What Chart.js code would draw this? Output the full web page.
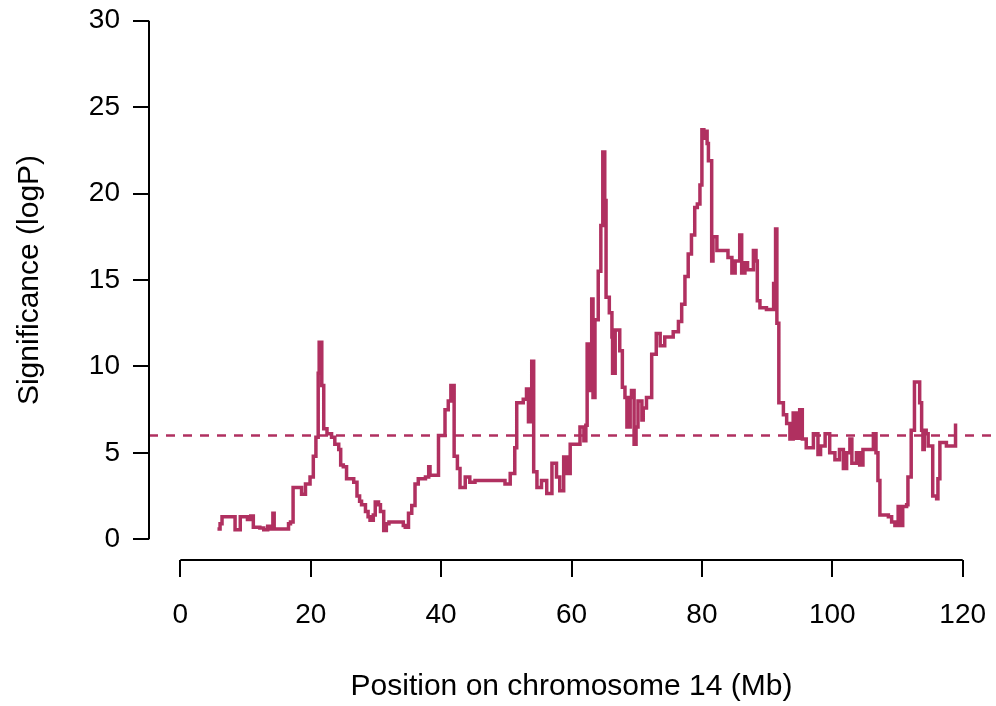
<!DOCTYPE html>
<html>
<head>
<meta charset="utf-8">
<script src="https://cdn.jsdelivr.net/npm/chart.js@4.4.1/dist/chart.umd.min.js"></script>
<style>
  html, body { margin: 0; padding: 0; background: #fff; }
  #wrap { width: 996px; height: 706px; }
</style>
</head>
<body>
<div id="wrap"><canvas id="grafico"></canvas></div>
<script>
// position on chromosome 14 (Mb) and significance (logP)
const positions = [
    5.7, 6.1, 6.4, 8.4, 9.2, 10.3, 10.8, 11.2, 12.2, 12.8, 13.4, 13.9, 14.2, 14.4, 16.6, 16.9,
    17.3, 18.6, 19.2, 19.9, 20.4, 20.8, 21.15, 21.3, 21.7, 22.0, 22.5, 23.2, 23.7, 24.3, 24.6,
    25.0, 25.5, 26.6, 27.1, 27.5, 27.8, 28.4, 28.8, 29.1, 29.6, 29.9, 30.4, 30.7, 31.2, 31.6,
    32.0, 34.2, 34.5, 35.0, 35.5, 36.0, 36.5, 37.6, 38.1, 38.3, 39.6, 40.6, 41.1, 41.5, 42.0,
    42.5, 42.9, 43.7, 44.4, 45.2, 49.8, 50.6, 51.3, 51.6, 52.6, 53.1, 53.4, 53.9, 54.2, 54.7,
    55.4, 56.2, 57.0, 57.7, 58.2, 58.8, 59.3, 59.8, 61.3, 61.9, 62.2, 62.4, 62.8, 63.1, 63.3,
    63.6, 64.1, 64.5, 64.8, 65.1, 65.3, 65.8, 66.2, 66.3, 66.7, 67.4, 67.8, 68.2, 68.5, 69.0,
    69.2, 69.6, 69.9, 70.2, 70.8, 71.0, 71.5, 72.3, 73.0, 73.6, 74.3, 75.6, 76.4, 76.9, 77.4,
    77.9, 78.4, 78.9, 79.3, 79.7, 80.0, 80.3, 80.5, 80.8, 81.0, 81.5, 81.7, 82.3, 84.0, 84.6,
    85.1, 85.8, 86.1, 86.6, 87.0, 87.9, 88.3, 88.5, 88.9, 89.9, 91.0, 91.3, 91.5, 91.8, 92.5,
    93.0, 93.5, 94.0, 94.5, 95.0, 95.4, 96.0, 97.1, 97.8, 98.2, 98.9, 99.6, 100.4, 101.1, 101.7,
    102.2, 102.7, 103.0, 103.7, 104.2, 104.7, 106.3, 106.7, 107.0, 107.3, 108.6, 109.1, 109.6,
    110.1, 110.5, 110.8, 111.4, 111.6, 112.1, 112.6, 113.4, 113.7, 113.9, 114.1, 114.4, 114.7,
    115.4, 116.0, 116.2, 116.5, 117.5, 118.9
]
const logP = [
    0.6, 0.9, 1.3, 0.55, 1.3, 1.15, 1.35, 0.7, 0.65, 0.55, 0.75, 0.6, 1.5, 0.6, 0.9, 1.0,
    3.0, 2.6, 3.2, 3.6, 4.8, 5.9, 9.6, 11.4, 8.9, 6.4, 6.1, 5.9, 5.5, 5.2, 4.3,
    4.2, 3.5, 3.3, 2.5, 2.2, 2.0, 1.6, 1.3, 1.1, 1.4, 2.15, 2.0, 1.6, 0.5, 0.9,
    1.0, 0.8, 0.7, 1.5, 1.96, 3.2, 3.5, 3.6, 4.2, 3.7, 6.0, 7.5, 8.0, 8.9, 4.8,
    4.1, 3.0, 3.6, 3.3, 3.4, 3.2, 3.8, 5.3, 7.9, 8.1, 8.7, 6.8, 10.3, 3.9, 3.0,
    3.4, 2.65, 4.4, 3.6, 2.8, 4.76, 3.8, 5.5, 6.5, 5.7, 6.6, 11.3, 8.6, 13.9, 8.2,
    12.7, 15.5, 18.15, 22.4, 19.6, 14.0, 13.1, 11.7, 9.6, 12.1, 10.9, 8.8, 8.2, 6.5, 8.2,
    8.6, 5.5, 6.5, 8.0, 6.9, 7.6, 8.2, 10.7, 11.9, 11.2, 11.7, 12.0, 12.6, 13.6, 15.2,
    16.5, 17.6, 19.2, 19.4, 20.5, 23.7, 23.2, 23.6, 22.9, 21.9, 16.1, 17.5, 16.7, 16.3, 15.4,
    16.1, 17.6, 15.4, 16.0, 15.6, 16.7, 16.1, 13.8, 13.4, 13.3, 14.8, 17.95, 12.5, 7.9, 7.2,
    6.7, 5.8, 7.3, 5.85, 7.5, 5.8, 5.3, 6.1, 4.9, 5.4, 6.1, 5.0, 4.6, 5.2, 4.1,
    5.0, 5.8, 4.4, 5.0, 4.3, 5.2, 6.1, 5.0, 3.4, 1.4, 1.3, 1.0, 0.8,
    1.9, 0.8, 1.9, 2.0, 3.6, 6.3, 9.1, 7.9, 6.3, 5.2, 6.3, 6.1, 5.4,
    2.5, 2.35, 3.5, 5.6, 5.4, 6.7
]
const threshold = 6
const xTicks = [0, 20, 40, 60, 80, 100, 120]
const yTicks = [0, 5, 10, 15, 20, 25, 30]

const maroon = "#B03060"
const fonte = "'Liberation Sans', Arial, sans-serif"

// R style detached axes: the line only spans first..last tick
const eixosR = {
    id: "eixosR",
    afterDraw(chart) {
        const ctx = chart.ctx
        const x = chart.scales.x
        const y = chart.scales.y
        const area = chart.chartArea
        ctx.save()
        ctx.strokeStyle = "#000"
        ctx.lineWidth = 2
        ctx.beginPath()
        ctx.moveTo(area.left, y.getPixelForValue(yTicks[0]))
        ctx.lineTo(area.left, y.getPixelForValue(yTicks[yTicks.length - 1]))
        ctx.moveTo(x.getPixelForValue(xTicks[0]), area.bottom)
        ctx.lineTo(x.getPixelForValue(xTicks[xTicks.length - 1]), area.bottom)
        ctx.stroke()
        ctx.restore()
    }
}

function criarGrafico() {
    const canvas = document.getElementById("grafico")
    const pontos = positions.map((p, i) => ({ x: p, y: logP[i] }))

    new Chart(canvas, {
        type: "line",
        data: {
            datasets: [{
                data: pontos,
                borderColor: maroon,
                borderWidth: 3.5,
                pointRadius: 0,
                stepped: true,
                fill: false
            }, {
                data: [{ x: -4.8, y: threshold }, { x: 124.8, y: threshold }],
                borderColor: maroon,
                borderWidth: 2.5,
                borderDash: [9, 8],
                pointRadius: 0,
                fill: false
            }]
        },
        options: {
            responsive: true,
            maintainAspectRatio: false,
            animation: false,
            layout: { padding: { top: 0, right: 2, bottom: 0, left: 0 } },
            plugins: {
                legend: { display: false },
                tooltip: { enabled: false }
            },
            scales: {
                x: {
                    type: "linear",
                    min: -4.8,
                    max: 124.8,
                    afterBuildTicks: (s) => { s.ticks = xTicks.map(v => ({ value: v })) },
                    afterFit: (s) => { s.height = 146; s.paddingLeft = 0; s.paddingRight = 0 },
                    grid: { drawOnChartArea: false, color: "#000", lineWidth: 2, tickLength: 17 },
                    border: { display: false },
                    ticks: { color: "#000", padding: 21, font: { family: fonte, size: 28 }, maxRotation: 0 },
                    title: {
                        display: true,
                        text: "Position on chromosome 14 (Mb)",
                        color: "#000",
                        font: { family: fonte, size: 30 },
                        padding: { top: 0, bottom: 1 }
                    }
                },
                y: {
                    type: "linear",
                    min: -1.2,
                    max: 31.2,
                    afterBuildTicks: (s) => { s.ticks = yTicks.map(v => ({ value: v })) },
                    afterFit: (s) => { s.width = 149; s.paddingTop = 0; s.paddingBottom = 0 },
                    grid: { drawOnChartArea: false, color: "#000", lineWidth: 2, tickLength: 16 },
                    border: { display: false },
                    ticks: { color: "#000", padding: 13, font: { family: fonte, size: 28 } },
                    title: {
                        display: true,
                        text: "Significance (logP)",
                        color: "#000",
                        font: { family: fonte, size: 30 },
                        padding: { top: 12, bottom: 0 }
                    }
                }
            }
        },
        plugins: [eixosR]
    })
}

criarGrafico()
</script>
</body>
</html>
